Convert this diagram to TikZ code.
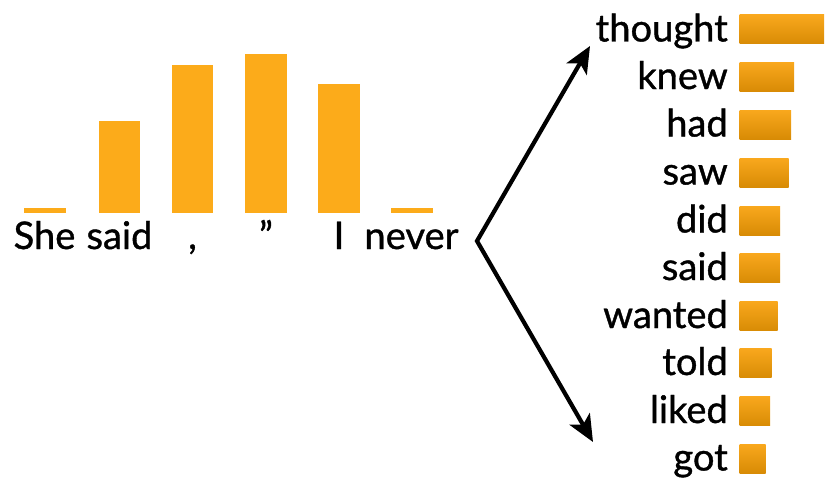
\documentclass[tikz,border=0pt]{standalone}
\usepackage{fontspec}
\setmainfont{Lato}[FakeBold=1.0]
\usetikzlibrary{arrows.meta}
\definecolor{ctxorange}{HTML}{FCAB1A}
\definecolor{predtop}{HTML}{F9A81D}
\definecolor{predbottom}{HTML}{D88B05}
\tikzset{
  word/.style={font=\fontsize{32.5}{36}\selectfont, inner sep=0pt},
  ctxbar/.style={fill=ctxorange, draw=none},
  predbar/.style={top color=predtop, bottom color=predbottom, draw=none},
  fork/.style={line width=3.6pt, line join=miter,
    {Stealth[length=8mm, width=7mm, inset=2mm]}-{Stealth[length=8mm, width=7mm, inset=2mm]}}
}
\begin{document}
\begin{tikzpicture}[x=0.03cm, y=-0.03cm]
  \useasboundingbox (0,0) rectangle (825,478);
  % context words and their attention bars
  \fill[ctxbar] (24,207.5) rectangle (66,213);
  \fill[ctxbar] (99,121) rectangle (140,213);
  \fill[ctxbar] (172,64.5) rectangle (213,213);
  \fill[ctxbar] (245,54.5) rectangle (287,213);
  \fill[ctxbar] (318,83.5) rectangle (360,213);
  \fill[ctxbar] (391,207.5) rectangle (433,213);
  \node[word, anchor=base] (she) at (44.5,249) {She};
  \node[word, anchor=base] (said) at (119.5,249) {said};
  \node[word, anchor=base] (comma) at (192.5,249) {,};
  \node[word, anchor=base] (quote) at (266,249) {”};
  \node[word, anchor=base] (i) at (339,249) {I};
  \node[word, anchor=base] (never) at (411.5,249) {never};
  % fork to the next-word candidates
  \coordinate (split) at (477,241);
  \coordinate (up) at (590,46);
  \coordinate (down) at (593,442);
  \draw[fork] (up) -- (split) -- (down);
  % candidates
  \node[word, anchor=base east] (thought) at (728,41.5) {thought};
  \node[word, anchor=base east] (knew) at (728,89) {knew};
  \node[word, anchor=base east] (had) at (728,136.5) {had};
  \node[word, anchor=base east] (saw) at (728,184.5) {saw};
  \node[word, anchor=base east] (did) at (728,232.5) {did};
  \node[word, anchor=base east] (said2) at (728,280) {said};
  \node[word, anchor=base east] (wanted) at (728,328) {wanted};
  \node[word, anchor=base east] (told) at (728,375) {told};
  \node[word, anchor=base east] (liked) at (728,423) {liked};
  \node[word, anchor=base east] (got) at (728,470.5) {got};
  \shade[predbar] (739.5,15) rectangle (824,44);
  \shade[predbar] (739.5,62.5) rectangle (794,91.5);
  \shade[predbar] (739.5,110) rectangle (791,139);
  \shade[predbar] (739.5,158) rectangle (788.5,187);
  \shade[predbar] (739.5,206) rectangle (780,235);
  \shade[predbar] (739.5,253.5) rectangle (780,282.5);
  \shade[predbar] (739.5,301.5) rectangle (777.5,330.5);
  \shade[predbar] (739.5,348.5) rectangle (771.5,377.5);
  \shade[predbar] (739.5,396.5) rectangle (770,425.5);
  \shade[predbar] (739.5,444) rectangle (765.5,473);
\end{tikzpicture}
\end{document}
